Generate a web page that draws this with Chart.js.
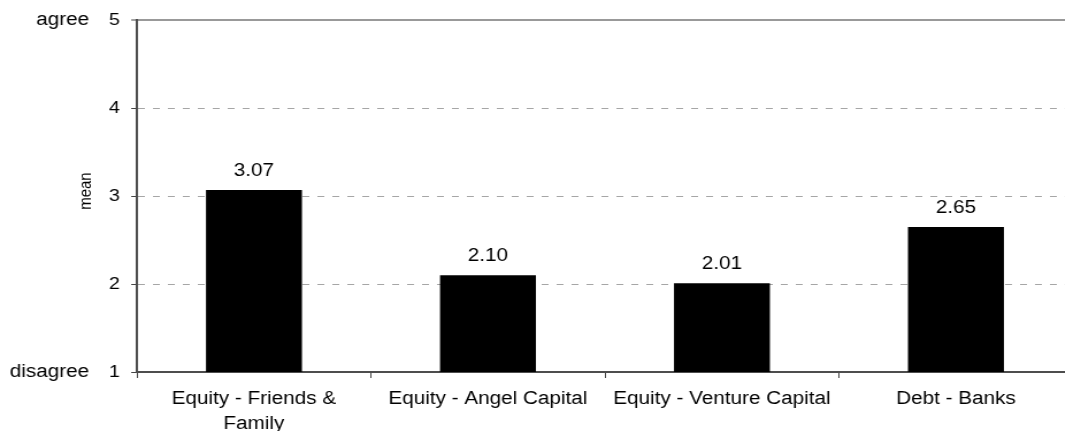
<!DOCTYPE html>
<html>
<head>
<meta charset="utf-8">
<script src="https://cdn.jsdelivr.net/npm/chart.js@4/dist/chart.umd.min.js"></script>
<style>
  html, body { margin: 0; padding: 0; background: #fff; overflow: hidden; }
  /* the reference is stretched sideways, so draw narrow and widen it */
  #wrap { width: 933px; height: 431px; transform: scaleX(1.15); transform-origin: 0 0; }
</style>
</head>
<body>
<div id="wrap"><canvas id="chart" width="933" height="431"></canvas></div>
<script>
const categories = [["Equity - Friends &", "Family"], "Equity - Angel Capital", "Equity - Venture Capital", "Debt - Banks"];
const means = [3.07, 2.10, 2.01, 2.65];
const yTicks = [1, 2, 3, 4, 5];
const endLabels = { 5: "agree", 1: "disagree" };
const yTitle = "mean";

const FONT = "Arial, 'Liberation Sans', sans-serif";

// value labels over bars, plus the agree/disagree words and the axis title
const extraText = {
  id: "extraText",
  afterDatasetsDraw(chart) {
    const ctx = chart.ctx;
    const y = chart.scales.y;
    const meta = chart.getDatasetMeta(0);
    ctx.save();
    ctx.fillStyle = "#000";
    ctx.font = "18px " + FONT;
    ctx.textAlign = "center";
    ctx.textBaseline = "alphabetic";
    meta.data.forEach((bar, i) => {
      ctx.fillText(means[i].toFixed(2), bar.x, bar.y - 14);
    });

    ctx.textAlign = "right";
    ctx.textBaseline = "middle";
    Object.keys(endLabels).forEach(v => {
      ctx.fillText(endLabels[v], 77.5, y.getPixelForValue(Number(v)));
    });

    ctx.font = "15px " + FONT;
    ctx.textAlign = "center";
    ctx.translate(74.5, (chart.chartArea.top + chart.chartArea.bottom) / 2 - 5);
    ctx.rotate(-Math.PI / 2);
    ctx.fillText(yTitle, 0, 0);
    ctx.restore();
  }
};

new Chart(document.getElementById("chart"), {
  type: "bar",
  data: {
    labels: categories,
    datasets: [{
      data: means,
      backgroundColor: "#000",
      borderWidth: 0,
      categoryPercentage: 1,
      barPercentage: 0.41
    }]
  },
  options: {
    responsive: false,
    animation: false,
    devicePixelRatio: 1,
    layout: { padding: { top: 19, right: 0, bottom: 0, left: 0 } },
    plugins: { legend: { display: false }, tooltip: { enabled: false } },
    scales: {
      x: {
        afterFit(scale) { scale.height = 59; },
        grid: { drawOnChartArea: false, drawTicks: true, tickLength: 6, tickColor: "#444", tickWidth: 1 },
        border: { color: "#4d4d4d", width: 2 },
        ticks: {
          color: "#000",
          font: { family: FONT, size: 18, lineHeight: 1.4 },
          padding: 8,
          maxRotation: 0,
          autoSkip: false
        }
      },
      y: {
        min: 1,
        max: 5,
        afterFit(scale) { scale.width = 119.1; },
        afterBuildTicks(scale) { scale.ticks = yTicks.map(v => ({ value: v })); },
        grid: {
          color: c => c.tick && c.tick.value === 5 ? "#999" : (c.tick && c.tick.value === 1 ? "rgba(0,0,0,0)" : "#a6a6a6"),
          lineWidth: c => c.tick && c.tick.value === 5 ? 2 : 1,
          drawTicks: true,
          tickLength: 5,
          tickColor: "#444",
          tickWidth: 1
        },
        border: {
          color: "#4d4d4d",
          width: 2,
          dash: c => c.tick && c.tick.value > 1 && c.tick.value < 5 ? [6, 7] : []
        },
        ticks: {
          color: "#000",
          font: { family: FONT, size: 17 },
          padding: 10
        }
      }
    }
  },
  plugins: [extraText]
});
</script>
</body>
</html>
